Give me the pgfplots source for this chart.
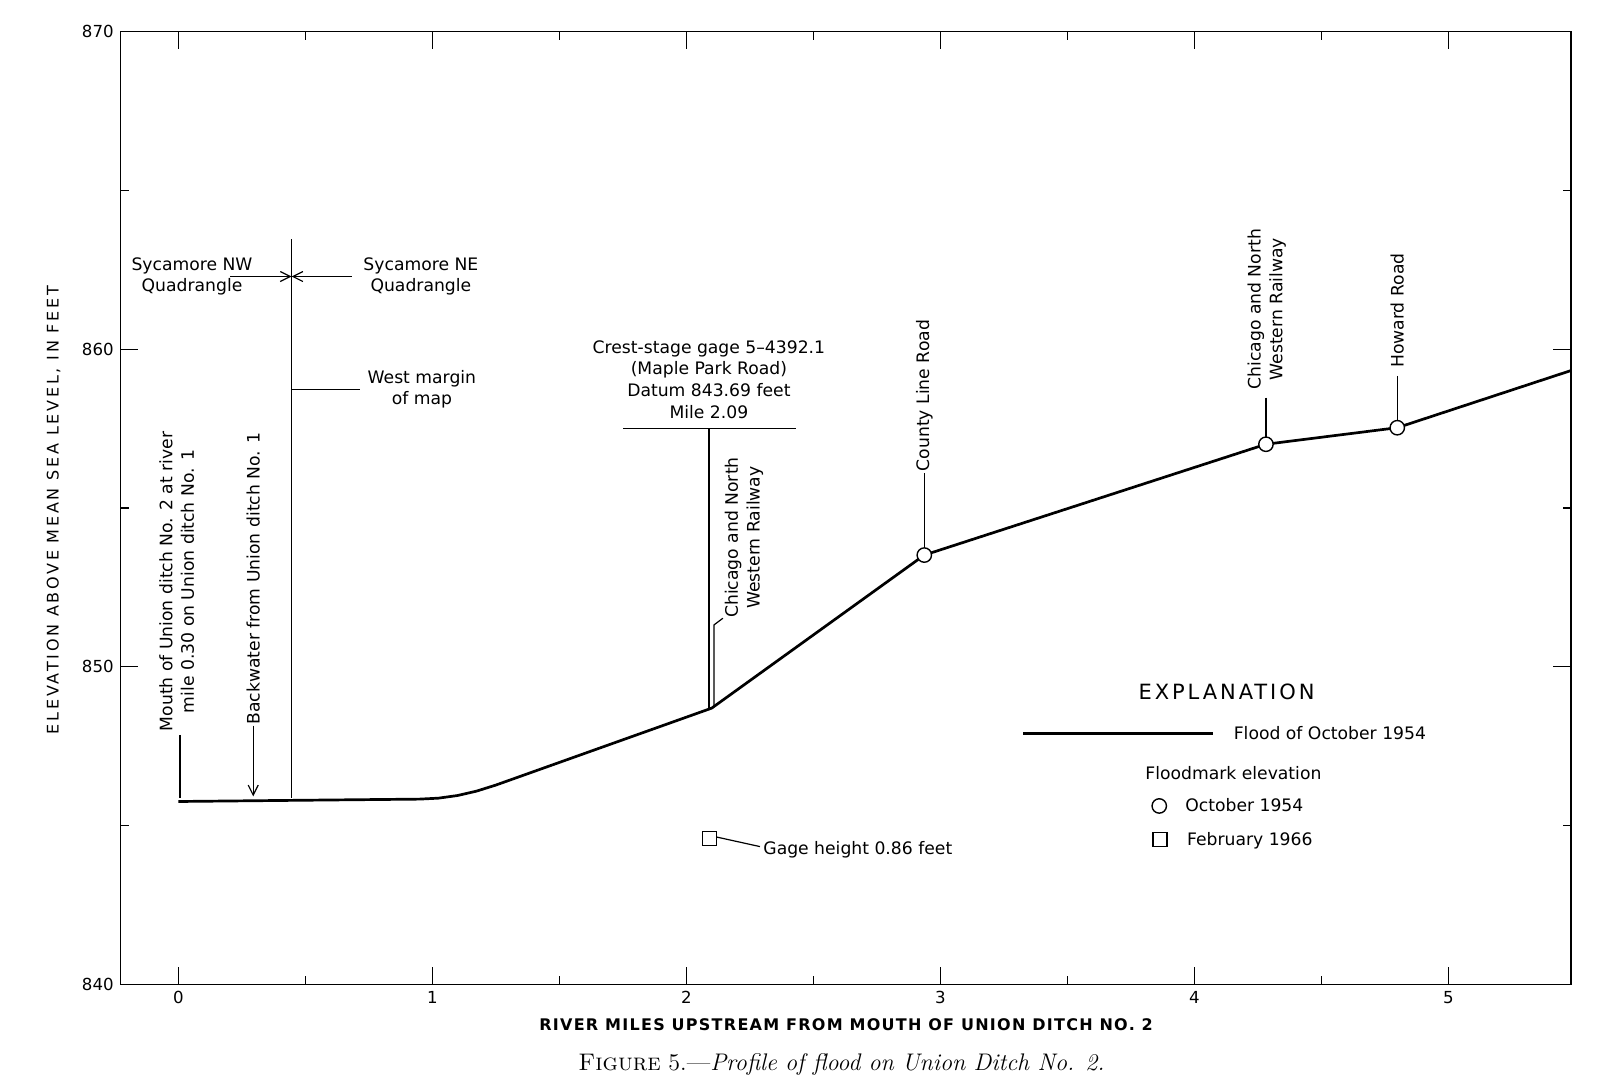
\documentclass[border=0pt]{standalone}
\usepackage{fontspec}
\usepackage{pgfplots}
\pgfplotsset{compat=1.18}
\usetikzlibrary{arrows.meta}
\newfontfamily\dv{DejaVu Sans}
\newfontfamily\dvy{DejaVu Sans}[LetterSpace=17]
\newfontfamily\dvx{DejaVu Sans Bold}[LetterSpace=8]
\newfontfamily\dve{DejaVu Sans}[LetterSpace=14]
\newcommand\annfont{\dv\fontsize{8.6}{10.8}\selectfont}
\begin{document}
\begin{tikzpicture}
\begin{axis}[
  scale only axis, width=725.2pt, height=476.4pt,
  xmin=-0.2268, xmax=5.483, ymin=840, ymax=870,
  xtick={0,1,2,3,4,5}, ytick={840,850,860,870},
  minor x tick num=1, minor y tick num=1,
  tick align=inside,
  major tick length=8.8pt, minor tick length=4.2pt,
  axis line style={line width=0.8pt},
  every tick/.style={line width=0.6pt, black},
  tick label style={font=\dv\fontsize{8.3}{9}\selectfont},
  /pgf/number format/assume math mode=true,
  clip=false,
]
% flood profile
\addplot[line width=1.35pt, black] coordinates {
  (0,845.76) (0.5,845.80) (0.95,845.835) (1.024,845.865) (1.099,845.948)
  (1.174,846.086) (1.25,846.277)
  (2.10,848.70) (2.937,853.52) (4.282,857.01) (4.799,857.53) (5.483,859.33)
};
% floodmarks October 1954
\addplot[only marks, mark=*, mark size=3.6pt, mark options={fill=white, draw=black, line width=0.7pt}] coordinates {
  (2.937,853.52) (4.282,857.01) (4.799,857.53)
};
% floodmark February 1966
\addplot[only marks, mark=square, mark size=3.5pt, mark options={fill=white, draw=black, line width=0.6pt}] coordinates {
  (2.09,844.6)
};
% legend symbols
\addplot[line width=1.35pt, black] coordinates {(3.327,847.91) (4.075,847.91)};
\addplot[only marks, mark=*, mark size=3.6pt, mark options={fill=white, draw=black, line width=0.7pt}] coordinates {(3.862,845.62)};
\addplot[only marks, mark=square, mark size=3.5pt, mark options={fill=white, draw=black, line width=0.6pt}] coordinates {(3.865,844.57)};

% axis labels
\node[rotate=90, font=\dvy\fontsize{8}{9}\selectfont] at (axis cs:-0.491,854.94) {ELEVATION ABOVE MEAN SEA LEVEL, IN FEET};
\node[font=\dvx\fontsize{8}{9}\selectfont] at (axis cs:2.629,838.72) {RIVER MILES UPSTREAM FROM MOUTH OF UNION DITCH NO. 2};

% quadrangle boundary
\draw[line width=0.6pt] (axis cs:0.446,863.47) -- (axis cs:0.446,845.87);
\draw[line width=0.6pt, -{Straight Barb[length=5pt,width=5pt]}] (axis cs:0.204,862.29) -- (axis cs:0.446,862.29);
\draw[line width=0.6pt, -{Straight Barb[length=5pt,width=5pt]}] (axis cs:0.683,862.29) -- (axis cs:0.446,862.29);
\node[font=\annfont, align=center] at (axis cs:0.054,862.30) {Sycamore NW\\Quadrangle};
\node[font=\annfont, align=center] at (axis cs:0.955,862.30) {Sycamore NE\\Quadrangle};
\draw[line width=0.6pt] (axis cs:0.446,858.74) -- (axis cs:0.715,858.74);
\node[font=\annfont, align=center] at (axis cs:0.959,858.74) {West margin\\of map};

% mouth
\node[rotate=90, anchor=west, inner sep=0pt, font=\annfont, align=center] at (axis cs:-0.006,847.96) {Mouth of Union ditch No. 2 at river\\mile 0.30 on Union ditch No. 1};
\draw[line width=0.6pt] (axis cs:0.007,847.86) -- (axis cs:0.007,845.86);
% backwater
\node[rotate=90, anchor=west, inner sep=0pt, font=\annfont] at (axis cs:0.295,848.17) {Backwater from Union ditch No. 1};
\draw[line width=0.6pt, -{Straight Barb[length=5pt,width=5pt]}] (axis cs:0.295,848.15) -- (axis cs:0.295,845.92);

% crest-stage gage
\node[anchor=base, inner sep=0pt, font=\annfont, align=center] at (axis cs:2.089,857.83) {Crest-stage gage 5–4392.1\\(Maple Park Road)\\Datum 843.69 feet\\Mile 2.09};
\draw[line width=0.6pt] (axis cs:1.752,857.51) -- (axis cs:2.432,857.51);
\draw[line width=0.6pt] (axis cs:2.089,857.51) -- (axis cs:2.089,848.66);
% railway at 2.1
\node[rotate=90, anchor=west, inner sep=0pt, font=\annfont, align=center] at (axis cs:2.227,851.53) {Chicago and North\\Western Railway};
\draw[line width=0.6pt] (axis cs:2.144,851.53) -- (axis cs:2.109,851.32) -- (axis cs:2.109,848.74);
% gage height
\draw[line width=0.6pt] (axis cs:2.120,844.64) -- (axis cs:2.290,844.34);
\node[anchor=base west, inner sep=0pt, font=\annfont] at (axis cs:2.302,844.08) {Gage height 0.86 feet};

% County Line Road
\node[rotate=90, anchor=west, inner sep=0pt, font=\annfont] at (axis cs:2.937,856.15) {County Line Road};
\draw[line width=0.6pt] (axis cs:2.937,856.10) -- (axis cs:2.937,853.76);
% Railway at 4.28
\node[rotate=90, anchor=west, inner sep=0pt, font=\annfont, align=center] at (axis cs:4.285,858.72) {Chicago and North\\Western Railway};
\draw[line width=0.6pt] (axis cs:4.282,858.48) -- (axis cs:4.282,857.25);
% Howard Road
\node[rotate=90, anchor=west, inner sep=0pt, font=\annfont] at (axis cs:4.799,859.40) {Howard Road};
\draw[line width=0.6pt] (axis cs:4.799,859.16) -- (axis cs:4.799,857.77);

% explanation
\node[anchor=base, inner sep=0pt, font=\dve\fontsize{10.5}{12}\selectfont] at (axis cs:4.127,848.96) {EXPLANATION};
\node[anchor=base west, inner sep=0pt, font=\annfont] at (axis cs:4.154,847.70) {Flood of October 1954};
\node[anchor=base, inner sep=0pt, font=\annfont] at (axis cs:4.154,846.44) {Floodmark elevation};
\node[anchor=base west, inner sep=0pt, font=\annfont] at (axis cs:3.963,845.44) {October 1954};
\node[anchor=base west, inner sep=0pt, font=\annfont] at (axis cs:3.970,844.39) {February 1966};

% caption
\node[anchor=base, inner sep=0pt, font=\fontsize{12}{14}\selectfont] at (axis cs:2.611,837.28) {\textsc{Figure} 5.—\textit{Profile of flood on Union Ditch No. 2.}};

\coordinate (bbsw) at (axis cs:-0.702,837.119);
\coordinate (bbne) at (axis cs:5.6445,870.998);
\end{axis}
\pgfresetboundingbox
\path[use as bounding box] (bbsw) rectangle (bbne);
\end{tikzpicture}
\end{document}
